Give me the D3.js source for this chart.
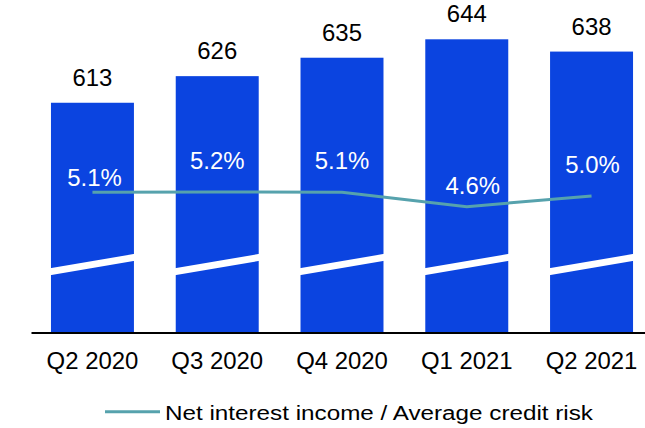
<!DOCTYPE html>
<html><head><meta charset="utf-8">
<script src="https://cdn.jsdelivr.net/npm/d3@7"></script>
<style>html,body{margin:0;padding:0;background:#fff;} svg{display:block;font-family:"Liberation Sans",Arial,sans-serif;}</style>
</head><body><svg id="chart" width="645" height="428"></svg>
<script>
const categories = ["Q2 2020","Q3 2020","Q4 2020","Q1 2021","Q2 2021"];
const incomeValues = [613,626,635,644,638];
const rateValues = [5.14,5.15,5.14,4.61,5.00];
const rateLabels = ["5.1%","5.2%","5.1%","4.6%","5.0%"];
const legendLabel = "Net interest income / Average credit risk";

// layout (not data)
const rateLabelDy = [-6,-23,-23,-13,-23];
const rateLabelDx = [2,0,0,6,1];
const barColor = "#0b44e0", lineColor = "#56a2ad";
const sx = 1.04;
const fs = 23;

const svg = d3.select("#chart");
const x = d3.scaleBand().domain(categories).range([31,653]).paddingInner(0.335).paddingOuter(0.16);
const yBar = d3.scaleLinear().domain([501,644]).range([332,39.3]);
const yRate = d3.scaleLinear().domain([4.6,5.0]).range([206.9,196]);

const rows = categories.map((c,i)=>({c, v:incomeValues[i], r:rateValues[i], lab:rateLabels[i], i}));

// bars
svg.append("g").selectAll("rect").data(rows).join("rect")
  .attr("x", d=>x(d.c)).attr("width", x.bandwidth())
  .attr("y", d=>yBar(d.v)).attr("height", d=>yBar.range()[0]-yBar(d.v))
  .attr("fill", barColor);

// axis break stripes
const bw = x.bandwidth();
const slope = (254-268)/bw;
svg.append("g").selectAll("polygon").data(rows).join("polygon")
  .attr("fill","#fff")
  .attr("points", d=>{
    const x0 = x(d.c)-1, x1 = x(d.c)+bw+1;
    const yt = xx => 268 + slope*(xx - x(d.c));
    return [[x0,yt(x0)],[x1,yt(x1)],[x1,yt(x1)+7],[x0,yt(x0)+7]].map(p=>p.join(",")).join(" ");
  });

// value labels
svg.append("g").selectAll("text").data(rows).join("text")
  .attr("transform", d=>`translate(${x(d.c)+bw/2},${yBar(d.v)-17}) scale(${sx},1)`)
  .attr("text-anchor","middle").attr("font-size",fs).attr("fill","#000")
  .text(d=>d.v);

// axis
const axis = svg.append("g").attr("transform","translate(0,332.5)")
  .call(d3.axisBottom(x).tickSize(0).tickSizeOuter(0));
axis.select(".domain").attr("stroke","#000").attr("stroke-width",2);
axis.selectAll(".tick text").attr("y",37).attr("dy",0)
  .attr("font-size",fs).attr("font-family","Liberation Sans, Arial, sans-serif")
  .attr("fill","#000").attr("transform",`scale(${sx},1)`);

// line
const line = d3.line().x(d=>x(d.c)+bw/2).y(d=>yRate(d.r));
svg.append("path").datum(rows).attr("d",line)
  .attr("fill","none").attr("stroke",lineColor).attr("stroke-width",3);

// rate labels
svg.append("g").selectAll("text").data(rows).join("text")
  .attr("transform", d=>`translate(${x(d.c)+bw/2+rateLabelDx[d.i]},${yRate(d.r)+rateLabelDy[d.i]}) scale(${sx},1)`)
  .attr("text-anchor","middle").attr("font-size",fs).attr("fill","#fff")
  .text(d=>d.lab);

// legend
const lg = svg.append("g");
lg.append("line").attr("x1",105).attr("x2",160).attr("y1",411.7).attr("y2",411.7)
  .attr("stroke",lineColor).attr("stroke-width",3);
lg.append("text").attr("transform",`translate(165,420) scale(1.155,1)`)
  .attr("font-size",21).attr("fill","#000").text(legendLabel);
</script></body></html>
